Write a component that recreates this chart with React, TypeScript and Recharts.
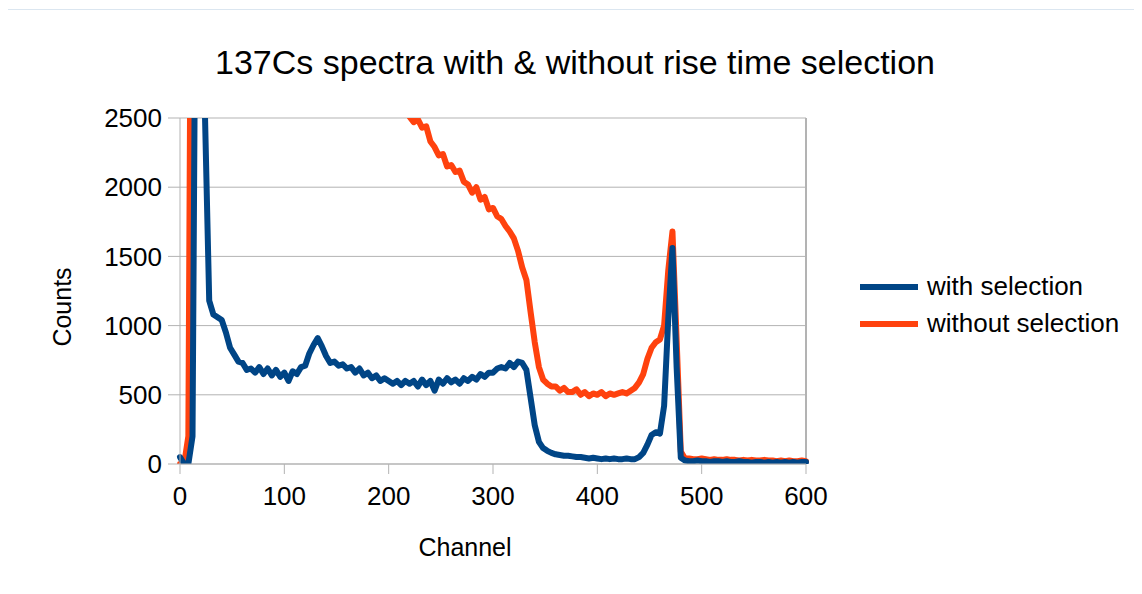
import React from "react";
import {
  LineChart,
  Line,
  XAxis,
  YAxis,
  CartesianGrid,
  Legend,
  Label,
  ReferenceLine,
} from "recharts";

const FONT = "'Liberation Sans', Arial, sans-serif";
const GRID = "#b3b3b3";

// channel grid, one sample every 4 channels (0..600)
const channels = Array.from({ length: 151 }, (_, i) => i * 4);

const withSelection = [
  50, 0, 0, 200, 5000, 6500, 2500, 1180, 1080, 1060,
  1040, 950, 840, 790, 740, 730, 680, 690, 660, 700,
  650, 690, 640, 680, 630, 660, 600, 670, 650, 700,
  710, 800, 860, 910, 850, 780, 730, 740, 710, 720,
  690, 700, 660, 690, 640, 660, 620, 640, 600, 620,
  600, 580, 600, 570, 600, 580, 600, 560, 610, 570,
  600, 530, 610, 580, 620, 590, 610, 580, 620, 600,
  630, 610, 650, 630, 660, 660, 690, 700, 690, 730,
  700, 740, 730, 680, 480, 280, 160, 115, 95, 80,
  70, 65, 60, 60, 55, 50, 50, 45, 40, 45,
  40, 35, 40, 35, 40, 35, 35, 40, 35, 35,
  50, 80, 140, 210, 230, 220, 420, 1050, 1560, 700,
  45, 25, 20, 20, 25, 20, 20, 15, 20, 20,
  15, 20, 15, 15, 20, 15, 15, 10, 15, 15,
  10, 15, 10, 15, 10, 15, 10, 15, 10, 15,
  15,
];

const withoutSelection = [
  0, 0, 200, 6000, 9000, 11000, 10000, 9000, 8000, 7500,
  7000, 6600, 6200, 5900, 5600, 5300, 5100, 4900, 4700, 4500,
  4350, 4200, 4100, 4000, 3900, 3800, 3700, 3600, 3550, 3500,
  3500, 3550, 3450, 3400, 3350, 3300, 3250, 3200, 3150, 3100,
  3050, 3000, 2980, 2950, 2900, 2870, 2840, 2800, 2770, 2740,
  2710, 2680, 2650, 2610, 2570, 2510, 2470, 2490, 2430, 2440,
  2330, 2290, 2230, 2240, 2150, 2160, 2110, 2120, 2040, 2020,
  1960, 2000, 1910, 1930, 1840, 1850, 1790, 1770, 1720, 1680,
  1630, 1540, 1420, 1330, 1100, 880, 700, 610, 580, 560,
  560, 530, 550, 520, 520, 540, 500, 520, 490, 510,
  500, 520, 490, 510, 500, 510, 520, 510, 530, 550,
  590, 650, 760, 840, 880, 900, 1000, 1400, 1680, 900,
  90, 40, 40, 35, 35, 40, 35, 30, 35, 30,
  30, 35, 30, 30, 25, 30, 25, 30, 25, 25,
  30, 25, 25, 20, 25, 20, 25, 20, 20, 25,
  20,
];

const xTicks = [0, 100, 200, 300, 400, 500, 600];
const yTicks = [0, 500, 1000, 1500, 2000, 2500];

const SERIES = [
  { key: "without", name: "without selection", color: "#ff420e" },
  { key: "with", name: "with selection", color: "#004586" },
];
const LEGEND_ORDER = ["with selection", "without selection"];

const data = channels.map((ch, i) => ({
  channel: ch,
  with: withSelection[i],
  without: withoutSelection[i],
}));

const tickStyle = { fontFamily: FONT, fontSize: 26, fill: "#000" };

const renderLegend = (props: any) => {
  const items = [...(props.payload || [])].sort(
    (a: any, b: any) => LEGEND_ORDER.indexOf(a.value) - LEGEND_ORDER.indexOf(b.value)
  );
  return (
    <div>
      {items.map((item: any) => (
        <div
          key={item.value}
          style={{ display: "flex", alignItems: "center", height: 37 }}
        >
          <div
            style={{ width: 58, height: 6, background: item.color, marginRight: 9 }}
          />
          <span style={{ fontFamily: FONT, fontSize: 26, color: "#000" }}>
            {item.value}
          </span>
        </div>
      ))}
    </div>
  );
};

export default function App() {
  return (
    <div
      style={{
        position: "relative",
        marginLeft: -3,
        marginTop: 1,
        width: 1150,
        height: 600,
        border: "1px solid #dbe6f0",
        background: "#fff",
        fontFamily: FONT,
      }}
    >
      <div
        style={{
          position: "absolute",
          left: 0,
          width: 1138,
          top: 32,
          textAlign: "center",
          fontSize: 34,
          lineHeight: "40px",
          color: "#000",
        }}
      >
        137Cs spectra with &amp; without rise time selection
      </div>
      <LineChart
        width={1136}
        height={584}
        data={data}
        margin={{ top: 108, right: 336, bottom: 30, left: 114 }}
      >
        <CartesianGrid vertical={false} stroke={GRID} />
        <XAxis
          dataKey="channel"
          type="number"
          domain={[0, 600]}
          ticks={xTicks}
          height={100}
          tickSize={10}
          tickMargin={13}
          tick={tickStyle}
          axisLine={{ stroke: GRID }}
          tickLine={{ stroke: GRID }}
        >
          <Label
            content={() => (
              <text
                x={459}
                y={537}
                textAnchor="middle"
                dominantBaseline="central"
                fontFamily={FONT}
                fontSize={25}
                fill="#000"
              >
                Channel
              </text>
            )}
          />
        </XAxis>
        <YAxis
          type="number"
          domain={[0, 2500]}
          ticks={yTicks}
          allowDataOverflow
          width={60}
          tickSize={12}
          tickMargin={6}
          tick={tickStyle}
          axisLine={{ stroke: GRID }}
          tickLine={{ stroke: GRID }}
        >
          <Label
            content={() => (
              <text
                x={56}
                y={297}
                transform="rotate(-90 56 297)"
                textAnchor="middle"
                dominantBaseline="central"
                fontFamily={FONT}
                fontSize={25}
                fill="#000"
              >
                Counts
              </text>
            )}
          />
        </YAxis>
        <ReferenceLine x={600} stroke={GRID} strokeWidth={2} />
        <Legend
          layout="horizontal"
          verticalAlign="middle"
          align="center"
          content={renderLegend}
          wrapperStyle={{ left: 854, top: 258, width: 280 }}
        />
        {SERIES.map((s) => (
          <Line
            key={s.key}
            type="linear"
            dataKey={s.key}
            name={s.name}
            stroke={s.color}
            strokeWidth={6}
            strokeLinejoin="round"
            strokeLinecap="round"
            dot={false}
            activeDot={false}
            isAnimationActive={false}
          />
        ))}
      </LineChart>
    </div>
  );
}
